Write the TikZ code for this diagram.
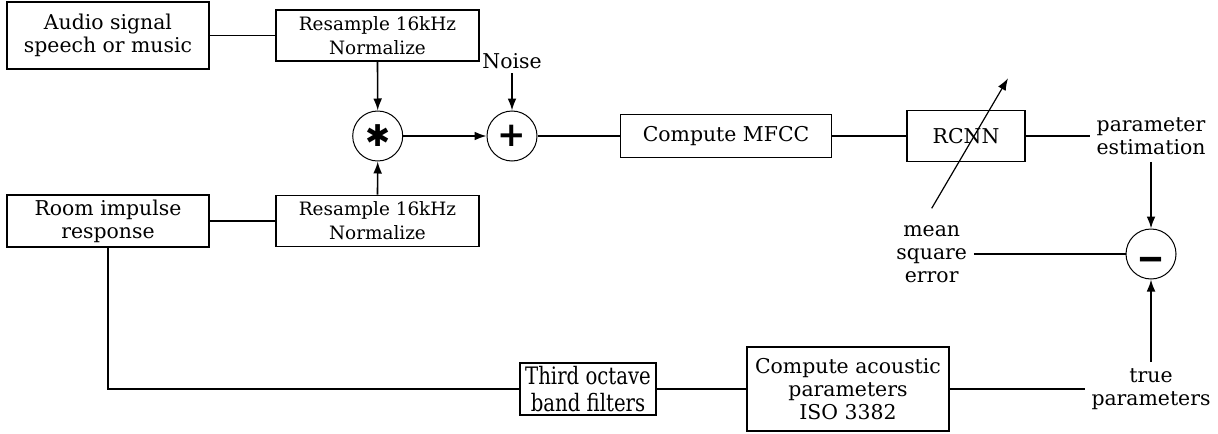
\documentclass[tikz,border=0pt]{standalone}
\usepackage{fontspec}
\setmainfont{DejaVu Serif}
\newfontfamily\symfont{DejaVu Sans}
\newfontfamily\narrowserif[FakeStretch=0.82]{DejaVu Serif}
\usepackage{tikz}
\usetikzlibrary{arrows.meta}
\newcommand{\mainsize}{\fontsize{10.2}{11.4}\selectfont}

\begin{document}
\begin{tikzpicture}[x=0.5pt,y=-0.5pt,line width=0.8pt,
  >={Latex[length=6pt,width=4.4pt]},
  blk/.style={draw,align=center,inner sep=0pt,font=\mainsize},
  rsmp/.style={blk,minimum width=101.5pt,minimum height=25.5pt,font=\fontsize{9.2}{12}\selectfont},
  sumj/.style={draw,circle,line width=0.5pt,minimum size=25pt,inner sep=0pt},
  lbl/.style={align=center,font=\mainsize}]
\useasboundingbox (0,0) rectangle (1218,433);
% ---- INPUTS ----
\node[blk,minimum width=101pt,minimum height=33.5pt] (audio) at (108,35.5) {Audio signal\\speech or music};
\node[blk,minimum width=101pt,minimum height=26pt] (room) at (108,221) {Room impulse\\response};
\node[rsmp] (rsA) at (377.5,35.5) {Resample 16kHz\\Normalize};
\node[rsmp] (rsB) at (377.5,221) {Resample 16kHz\\Normalize};
% ---- MIXING ----
\node[sumj] (conv) at (377.7,136) {\symfont\fontsize{15}{15}\selectfont ✱};
\node[sumj] (plus) at (512,136) {\symfont\bfseries\fontsize{17}{17}\selectfont +};
\node[lbl,inner sep=2pt] (noise) at (512,61) {Noise};
% ---- FEATURES AND NETWORK ----
\node[blk,minimum width=105.5pt,minimum height=21.5pt] (mfcc) at (726,136) {Compute MFCC};
\node[blk,minimum width=59pt,minimum height=25.5pt] (rcnn) at (966,136) {RCNN};
\node[lbl,inner sep=3pt] (est) at (1151,136.5) {parameter\\estimation};
\node[sumj] (minus) at (1151,254) {\symfont\bfseries\fontsize{18}{18}\selectfont\smash{\raisebox{-7.5pt}{\scalebox{1.5}[1]{–}}}};
\node[lbl,inner sep=3pt] (mse) at (931.7,254.5) {mean\\square\\error};
% ---- REFERENCE PARAMETERS ----
\node[blk,minimum width=68pt,minimum height=26pt,
  font=\narrowserif\fontsize{12}{13.5}\selectfont] (third) at (588,389) {Third octave\\band filters};
\node[blk,minimum width=101pt,minimum height=42pt] (acoustic) at (848,389) {Compute acoustic\\parameters\\ISO 3382};
\node[lbl,inner sep=3pt] (truep) at (1151,389.5) {true\\parameters};
% ---- CONNECTIONS ----
\draw (audio.east) -- (rsA.west);
\draw (room.east) -- (rsB.west);
\draw[->] (rsA.south) -- (conv.north);
\draw[->] (rsB.north) -- (conv.south);
\draw[->] (conv.east) -- (plus.west);
\draw[->] (noise.south) -- (plus.north);
\draw (plus.east) -- (mfcc.west);
\draw (mfcc.east) -- (rcnn.west);
\draw (rcnn.east) -- (rcnn.east -| est.west);
\draw[->] (est.south) -- (minus.north);
\draw (minus.west -| mse.east) -- (minus.west);
\draw[->] (truep.north) -- (minus.south);
\draw (room.south) |- (third.west);
\draw (third.east) -- (acoustic.west);
\draw (acoustic.east) -- (acoustic.east -| truep.west);
% error fed back through the network
\coordinate (errlo) at (931.7,208.3);
\coordinate (errhi) at (1008,78.3);
\draw[->,line width=0.6pt] (errlo) -- (errhi);
\end{tikzpicture}
\end{document}
